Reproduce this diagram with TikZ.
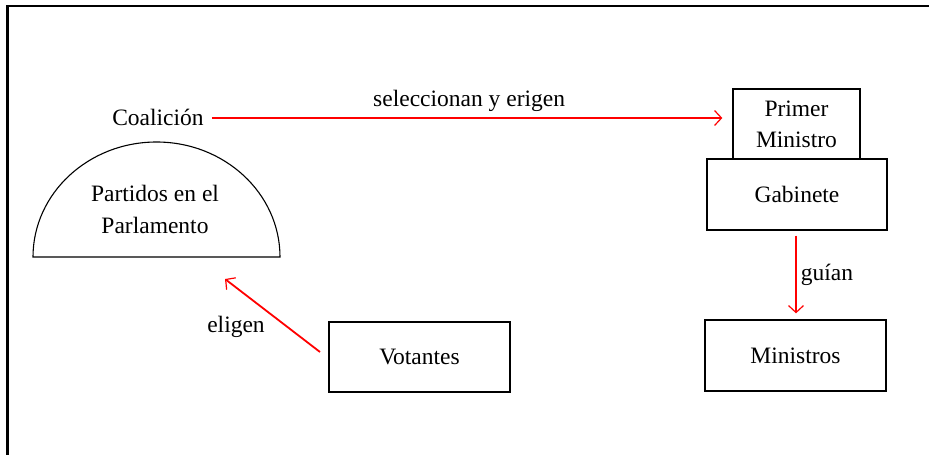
\documentclass[tikz,border=0pt]{standalone}
\usepackage{fontspec}
\setmainfont{Liberation Serif}
\usetikzlibrary{shapes,arrows,arrows.meta}
\usetikzlibrary{positioning}
\tikzstyle{box} = [rectangle, minimum width=181pt, minimum height=71pt, text centered, draw=black,
     line width=1.3pt]
\tikzstyle{word} = [inner sep=2pt, text centered]
\tikzstyle{link} = [draw=red, line width=1.8pt, -{Straight Barb[length=7pt,width=15pt,line width=1.2pt]}]
\tikzstyle{frame} = [draw=black, line width=2.5pt]

\begin{document}
\begin{tikzpicture}[x=1pt,y=-1pt,font=\fontsize{23.5}{32}\selectfont]
\useasboundingbox (0,0) rectangle (929,455);
% outer frame (cut on the right and bottom)
\draw[frame] (7.5,455) -- (7.5,6) -- (929,6);

% parliament
\draw[line width=1.1pt] (33,257) arc[start angle=180, end angle=360, x radius=123.5, y radius=115] -- cycle;
\node (partidos) [word, align=center] at (155,209) {Partidos en el\\Parlamento};
\node (coal) [word] at (158,117) {Coalición};

% government
\node (pm) [box, minimum width=127pt, minimum height=70pt, align=center] at (796.5,124)
  {Primer\\[-1pt]Ministro};
\node (gab) [box, minimum width=180pt] at (797,194.5) {Gabinete};
\node (min) [box] at (795.5,355.5) {Ministros};
\node (vot) [box, minimum height=70pt] at (419.5,357) {Votantes};

% links
\coordinate (vot_tail) at (320,352);
\coordinate (arc_head) at (225,279);
\draw[link, shorten <=6pt, shorten >=10pt] (coal.east |- 0,118) -- (pm.west |- 0,118)
  node[word, midway, above=4pt, black] {seleccionan y erigen};
\draw[link, shorten <=5pt, shorten >=6pt] (gab.south -| 796,0) -- (min.north -| 796,0)
  node[word, midway, right=2pt, black] {guían};
\draw[link] (vot_tail) -- (arc_head);
\node (eligen) [word] at (236,327) {eligen};
\end{tikzpicture}
\end{document}
